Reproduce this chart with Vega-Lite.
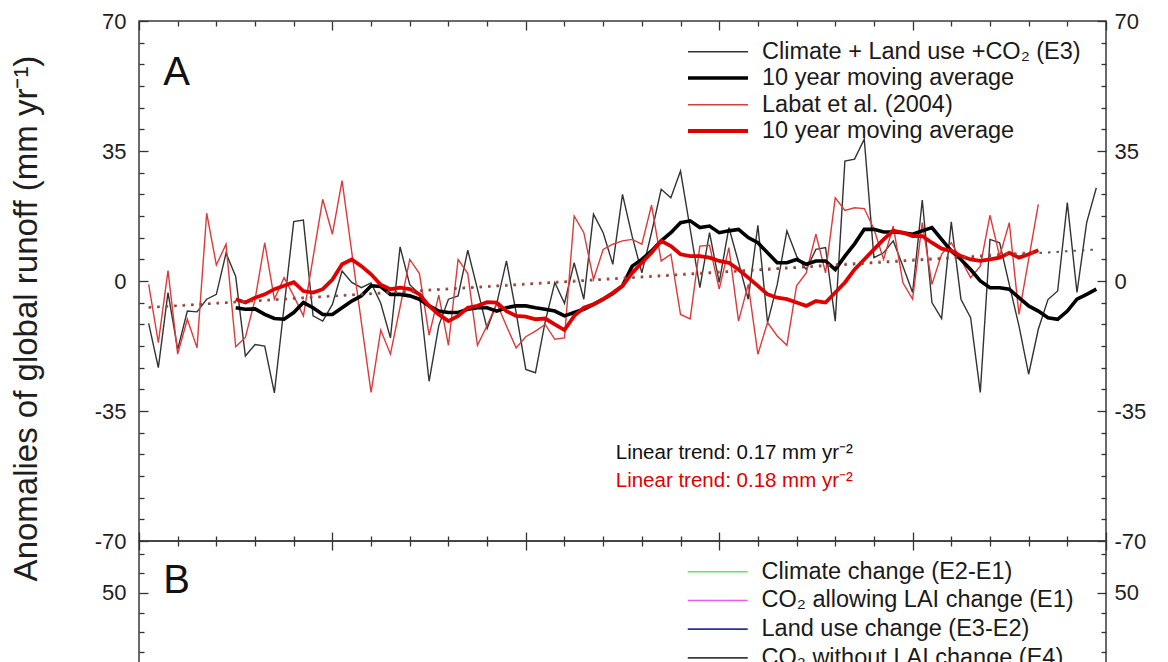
{
  "$schema": "https://vega.github.io/schema/vega-lite/v6.json",
  "background": "white",
  "padding": {"left": 9, "top": 9, "right": 0, "bottom": 0},
  "config": {
    "font": "Liberation Sans",
    "view": {"stroke": "#3a3a3a", "strokeWidth": 1.5},
    "axis": {"grid": false, "domain": false, "tickColor": "#333333", "tickWidth": 1.3, "labelFont": "Liberation Sans", "labelColor": "#1e1e1e", "labelFontSize": 22},
    "text": {"font": "Liberation Sans"}
  },
  "datasets": {
    "runoff": [
      {"year": 1901, "E3": -11.4, "Labat": -0.9},
      {"year": 1902, "E3": -23.3, "Labat": -16.6},
      {"year": 1903, "E3": -3.1, "Labat": 2.8},
      {"year": 1904, "E3": -18.4, "Labat": -19.7},
      {"year": 1905, "E3": -8.1, "Labat": -10.3},
      {"year": 1906, "E3": -8.3, "Labat": -18},
      {"year": 1907, "E3": -4.9, "Labat": 18.3},
      {"year": 1908, "E3": -3.6, "Labat": 4.3},
      {"year": 1909, "E3": 7.5, "Labat": 9.9},
      {"year": 1910, "E3": 1.2, "Labat": -17.7, "E3MA": -7.2, "LabatMA": -4.9},
      {"year": 1911, "E3": -20.2, "Labat": -15.2, "E3MA": -7.6, "LabatMA": -5.8},
      {"year": 1912, "E3": -17.1, "Labat": -5, "E3MA": -7.5, "LabatMA": -4.5},
      {"year": 1913, "E3": -17.5, "Labat": 10.3, "E3MA": -9, "LabatMA": -3.6},
      {"year": 1914, "E3": -30.1, "Labat": -4.9, "E3MA": -10.1, "LabatMA": -2.2},
      {"year": 1915, "E3": -7, "Labat": 0.9, "E3MA": -10.3, "LabatMA": -1.3},
      {"year": 1916, "E3": 16, "Labat": -4, "E3MA": -8.5, "LabatMA": -0.3},
      {"year": 1917, "E3": 16.4, "Labat": -9.4, "E3MA": -5.8, "LabatMA": -2.7},
      {"year": 1918, "E3": -9.4, "Labat": 6.3, "E3MA": -7.2, "LabatMA": -3.1},
      {"year": 1919, "E3": -10.8, "Labat": 22, "E3MA": -9, "LabatMA": -2.2},
      {"year": 1920, "E3": -6.3, "Labat": 12.6, "E3MA": -9, "LabatMA": 0.4},
      {"year": 1921, "E3": 2.7, "Labat": 27, "E3MA": -7.2, "LabatMA": 4.5},
      {"year": 1922, "E3": -0.4, "Labat": 7.8, "E3MA": -5.4, "LabatMA": 5.8},
      {"year": 1923, "E3": -1.8, "Labat": -11.2, "E3MA": -4, "LabatMA": 4},
      {"year": 1924, "E3": -0.5, "Labat": -30, "E3MA": -1.3, "LabatMA": 1.8},
      {"year": 1925, "E3": -6, "Labat": -13.2, "E3MA": -1.5, "LabatMA": -1},
      {"year": 1926, "E3": -15.3, "Labat": -19.7, "E3MA": -3.6, "LabatMA": -2.2},
      {"year": 1927, "E3": 9.2, "Labat": -7, "E3MA": -3.6, "LabatMA": -1.8},
      {"year": 1928, "E3": -1, "Labat": 5.8, "E3MA": -4, "LabatMA": -2.2},
      {"year": 1929, "E3": -3.5, "Labat": 2, "E3MA": -4.9, "LabatMA": -3.6},
      {"year": 1930, "E3": -27, "Labat": -14.6, "E3MA": -6.7, "LabatMA": -6.7},
      {"year": 1931, "E3": -12, "Labat": -3.8, "E3MA": -8.1, "LabatMA": -9},
      {"year": 1932, "E3": -4.9, "Labat": -17.3, "E3MA": -8.5, "LabatMA": -10.8},
      {"year": 1933, "E3": -4, "Labat": 5.8, "E3MA": -8.5, "LabatMA": -9.4},
      {"year": 1934, "E3": 8.3, "Labat": 2, "E3MA": -7.6, "LabatMA": -7.2},
      {"year": 1935, "E3": -2.2, "Labat": -17.3, "E3MA": -7.2, "LabatMA": -6.7},
      {"year": 1936, "E3": -12.8, "Labat": -12, "E3MA": -7.2, "LabatMA": -5.7},
      {"year": 1937, "E3": -6, "Labat": -6, "E3MA": -8.1, "LabatMA": -5.8},
      {"year": 1938, "E3": 5.4, "Labat": -12.1, "E3MA": -7.2, "LabatMA": -8.1},
      {"year": 1939, "E3": -8.5, "Labat": -18, "E3MA": -6.7, "LabatMA": -9.4},
      {"year": 1940, "E3": -23.8, "Labat": -15, "E3MA": -6.7, "LabatMA": -9.6},
      {"year": 1941, "E3": -24.7, "Labat": -13.5, "E3MA": -7.2, "LabatMA": -10.3},
      {"year": 1942, "E3": -11, "Labat": -11.7, "E3MA": -7.6, "LabatMA": -10.1},
      {"year": 1943, "E3": -0.4, "Labat": -15.7, "E3MA": -8.1, "LabatMA": -11.7},
      {"year": 1944, "E3": -6, "Labat": -15.3, "E3MA": -9.4, "LabatMA": -13.2},
      {"year": 1945, "E3": 4.9, "Labat": 17.5, "E3MA": -8.5, "LabatMA": -9.4},
      {"year": 1946, "E3": -4.9, "Labat": 13, "E3MA": -7.6, "LabatMA": -7.2},
      {"year": 1947, "E3": 18, "Labat": 0.4, "E3MA": -6.3, "LabatMA": -6.3},
      {"year": 1948, "E3": 13, "Labat": 8.5, "E3MA": -4.9, "LabatMA": -4.9},
      {"year": 1949, "E3": 4.5, "Labat": 9.9, "E3MA": -3.4, "LabatMA": -3.2},
      {"year": 1950, "E3": 23.3, "Labat": 10.8, "E3MA": -1.3, "LabatMA": -1.3},
      {"year": 1951, "E3": 12, "Labat": 11.2, "E3MA": 4, "LabatMA": 2.2},
      {"year": 1952, "E3": 2.2, "Labat": 9.9, "E3MA": 5.8, "LabatMA": 4.9},
      {"year": 1953, "E3": 13, "Labat": 20.4, "E3MA": 8.1, "LabatMA": 7.6},
      {"year": 1954, "E3": 24.7, "Labat": 5.4, "E3MA": 10.8, "LabatMA": 10.8},
      {"year": 1955, "E3": 22.4, "Labat": 7.2, "E3MA": 13, "LabatMA": 9.4},
      {"year": 1956, "E3": 29.6, "Labat": -9, "E3MA": 15.7, "LabatMA": 7.2},
      {"year": 1957, "E3": 14, "Labat": -10.2, "E3MA": 16.2, "LabatMA": 6.7},
      {"year": 1958, "E3": -1.8, "Labat": 9.4, "E3MA": 14.4, "LabatMA": 6.7},
      {"year": 1959, "E3": 13, "Labat": 9.6, "E3MA": 14.8, "LabatMA": 6.3},
      {"year": 1960, "E3": -0.4, "Labat": -2.2, "E3MA": 13, "LabatMA": 5.4},
      {"year": 1961, "E3": 14.4, "Labat": 9, "E3MA": 13.5, "LabatMA": 4.9},
      {"year": 1962, "E3": 5, "Labat": -10.8, "E3MA": 13.9, "LabatMA": 3.1},
      {"year": 1963, "E3": -4.9, "Labat": -0.9, "E3MA": 11.7, "LabatMA": 0.9},
      {"year": 1964, "E3": 15, "Labat": -19.7, "E3MA": 10.3, "LabatMA": -1.3},
      {"year": 1965, "E3": -11.2, "Labat": -11.2, "E3MA": 7.6, "LabatMA": -3.6},
      {"year": 1966, "E3": -1, "Labat": -14.8, "E3MA": 4.9, "LabatMA": -4.5},
      {"year": 1967, "E3": 13.5, "Labat": -17.3, "E3MA": 4.9, "LabatMA": -4.9},
      {"year": 1968, "E3": 6.7, "Labat": -1.3, "E3MA": 5.8, "LabatMA": -5.8},
      {"year": 1969, "E3": 3.1, "Labat": 2.2, "E3MA": 4.5, "LabatMA": -6.7},
      {"year": 1970, "E3": 8.5, "Labat": 12.6, "E3MA": 5.4, "LabatMA": -5.4},
      {"year": 1971, "E3": 9, "Labat": 2.2, "E3MA": 5.4, "LabatMA": -5.8},
      {"year": 1972, "E3": -10.8, "Labat": 22.4, "E3MA": 3.1, "LabatMA": -3.1},
      {"year": 1973, "E3": 32.3, "Labat": 19, "E3MA": 6.7, "LabatMA": -0.4},
      {"year": 1974, "E3": 32.8, "Labat": 19.7, "E3MA": 10, "LabatMA": 3.1},
      {"year": 1975, "E3": 38.2, "Labat": 19.5, "E3MA": 13.9, "LabatMA": 5.8},
      {"year": 1976, "E3": 6.3, "Labat": 14, "E3MA": 13.9, "LabatMA": 8.5},
      {"year": 1977, "E3": 7.6, "Labat": 5.8, "E3MA": 13.2, "LabatMA": 11.2},
      {"year": 1978, "E3": 10.8, "Labat": 14.8, "E3MA": 13.2, "LabatMA": 13.5},
      {"year": 1979, "E3": 4, "Labat": -0.5, "E3MA": 13, "LabatMA": 13},
      {"year": 1980, "E3": -3.1, "Labat": -4.9, "E3MA": 12.6, "LabatMA": 12.1},
      {"year": 1981, "E3": 21.8, "Labat": 15.7, "E3MA": 13.5, "LabatMA": 12.1},
      {"year": 1982, "E3": -5.8, "Labat": -0.9, "E3MA": 14.4, "LabatMA": 10.3},
      {"year": 1983, "E3": -10.1, "Labat": 7.2, "E3MA": 11.2, "LabatMA": 8.7},
      {"year": 1984, "E3": 15.9, "Labat": 10.3, "E3MA": 8.1, "LabatMA": 8.1},
      {"year": 1985, "E3": -4.9, "Labat": 5.8, "E3MA": 5.8, "LabatMA": 6.7},
      {"year": 1986, "E3": -9.9, "Labat": 0.9, "E3MA": 3.1, "LabatMA": 5.8},
      {"year": 1987, "E3": -30, "Labat": 4, "E3MA": 0, "LabatMA": 5.4},
      {"year": 1988, "E3": 11.2, "Labat": 17.7, "E3MA": -1.8, "LabatMA": 5.8},
      {"year": 1989, "E3": 10.3, "Labat": 6.7, "E3MA": -1.8, "LabatMA": 6.3},
      {"year": 1990, "E3": -1, "Labat": 15.7, "E3MA": -2.2, "LabatMA": 7.6},
      {"year": 1991, "E3": -12.1, "Labat": -9, "E3MA": -4.5, "LabatMA": 6.3},
      {"year": 1992, "E3": -25.1, "Labat": 5.8, "E3MA": -6.7, "LabatMA": 7.2},
      {"year": 1993, "E3": -13, "Labat": 20.6, "E3MA": -8.1, "LabatMA": 8.3},
      {"year": 1994, "E3": -5, "E3MA": -9.9},
      {"year": 1995, "E3": -2.7, "E3MA": -10.3},
      {"year": 1996, "E3": 21.1, "E3MA": -8.1},
      {"year": 1997, "E3": -3.1, "E3MA": -4.9},
      {"year": 1998, "E3": 15.7, "E3MA": -3.6},
      {"year": 1999, "E3": 25.1, "E3MA": -2.2}
    ]
  },
  "bounds": "flush",
  "spacing": 0,
  "vconcat": [
    {
      "width": 967,
      "height": 520,
      "layer": [
        {
          "data": {"name": "runoff"},
          "transform": [{"fold": ["E3", "Labat", "E3MA", "LabatMA"], "as": ["series", "value"]}, {"filter": "isValid(datum.value)"}],
          "mark": {"type": "line"},
          "encoding": {
            "x": {"field": "year", "type": "quantitative", "scale": {"domain": [1900, 2000], "nice": false, "zero": false},
              "axis": {"orient": "bottom", "values": [1900,1904,1908,1912,1916,1920,1924,1928,1932,1936,1940,1944,1948,1952,1956,1960,1964,1968,1972,1976,1980,1984,1988,1992,1996,2000], "labels": false, "title": null,
                "tickSize": {"condition": {"test": "datum.value % 20 == 0", "value": -9}, "value": -5}}},
            "y": {"field": "value", "type": "quantitative", "scale": {"domain": [-70, 70], "nice": false, "zero": false},
              "axis": {"orient": "left", "values": [-70,-64.1667,-58.3333,-52.5,-46.6667,-40.8333,-35,-29.1667,-23.3333,-17.5,-11.6667,-5.8333,0,5.8333,11.6667,17.5,23.3333,29.1667,35,40.8333,46.6667,52.5,58.3333,64.1667,70],
                "labelExpr": "abs(datum.value) % 35 < 0.01 ? '' + round(datum.value) : ''",
                "tickSize": {"condition": {"test": "abs(datum.value) % 35 < 0.01", "value": -9}, "value": -5},
                "labelPadding": 22,
                "title": "Anomalies of global runoff (mm yr⁻¹)", "titleFontSize": 33, "titleFontWeight": "normal", "titleColor": "#1e1e1e", "titleFont": "Liberation Sans",
                "titleX": -96, "titleY": 297, "titleAngle": -90, "titleAlign": "center", "titleBaseline": "bottom"}},
            "color": {"field": "series", "type": "nominal", "scale": {"domain": ["E3", "E3MA", "Labat", "LabatMA"], "range": ["#333333", "#000000", "#dd3a3a", "#e00000"]},
              "legend": {"orient": "none", "legendX": 567, "legendY": 19, "title": null, "padding": 0, "symbolType": "M-3,0H3", "symbolSize": 400, "labelOffset": 32, "labelFontSize": 23.5, "labelFont": "Liberation Sans", "labelColor": "#1a1a1a", "labelLimit": 600, "rowPadding": 2,
                "labelExpr": "datum.label == 'E3' ? 'Climate + Land use +CO₂ (E3)' : datum.label == 'Labat' ? 'Labat et al. (2004)' : '10 year moving average'"}},
            "strokeWidth": {"field": "series", "type": "nominal", "scale": {"type": "ordinal", "domain": ["E3", "E3MA", "Labat", "LabatMA"], "range": [1.4, 3.6, 1.4, 3.8]},
              "legend": {"orient": "none", "legendX": 567, "legendY": 19, "title": null, "padding": 0, "symbolType": "M-3,0H3", "symbolSize": 400, "labelOffset": 32, "labelFontSize": 23.5, "labelFont": "Liberation Sans", "labelColor": "#1a1a1a", "labelLimit": 600, "rowPadding": 2,
                "labelExpr": "datum.label == 'E3' ? 'Climate + Land use +CO₂ (E3)' : datum.label == 'Labat' ? 'Labat et al. (2004)' : '10 year moving average'"}}
          }
        },
        {
          "data": {"values": [{"year": 1901, "value": -7.2}, {"year": 1999, "value": 8.5}]},
          "mark": {"type": "line", "color": "#555555", "strokeWidth": 2, "strokeDash": [2.5, 6]},
          "encoding": {
            "x": {"field": "year", "type": "quantitative", "scale": {"domain": [1900, 2000], "nice": false, "zero": false}, "axis": null},
            "y": {"field": "value", "type": "quantitative", "scale": {"domain": [-70, 70], "nice": false, "zero": false}, "axis": null}
          }
        },
        {
          "data": {"values": [{"year": 1901, "value": -7.0}, {"year": 1993, "value": 7.9}]},
          "mark": {"type": "line", "color": "#c0392b", "strokeWidth": 2, "strokeDash": [2.5, 6], "opacity": 0.8},
          "encoding": {
            "x": {"field": "year", "type": "quantitative", "scale": {"domain": [1900, 2000], "nice": false, "zero": false}, "axis": null},
            "y": {"field": "value", "type": "quantitative", "scale": {"domain": [-70, 70], "nice": false, "zero": false}, "axis": null}
          }
        },
        {
          "data": {"values": [{}]},
          "mark": {"type": "text", "text": "A", "fontSize": 40, "align": "left", "baseline": "middle", "color": "#111111"},
          "encoding": {
            "x": {"datum": 1902.5, "type": "quantitative", "scale": {"domain": [1900, 2000], "nice": false, "zero": false}, "axis": null},
            "y": {"datum": 56, "type": "quantitative", "scale": {"domain": [-70, 70], "nice": false, "zero": false}, "axis": null}
          }
        },
        {
          "data": {"values": [{}]},
          "mark": {"type": "text", "text": "Linear trend: 0.17 mm yr⁻²", "fontSize": 20.5, "align": "left", "baseline": "middle", "color": "#111111"},
          "encoding": {
            "x": {"datum": 1949.3, "type": "quantitative", "scale": {"domain": [1900, 2000], "nice": false, "zero": false}, "axis": null},
            "y": {"datum": -46.3, "type": "quantitative", "scale": {"domain": [-70, 70], "nice": false, "zero": false}, "axis": null}
          }
        },
        {
          "data": {"values": [{}]},
          "mark": {"type": "text", "text": "Linear trend: 0.18 mm yr⁻²", "fontSize": 20.5, "align": "left", "baseline": "middle", "color": "#e00000"},
          "encoding": {
            "x": {"datum": 1949.3, "type": "quantitative", "scale": {"domain": [1900, 2000], "nice": false, "zero": false}, "axis": null},
            "y": {"datum": -53.8, "type": "quantitative", "scale": {"domain": [-70, 70], "nice": false, "zero": false}, "axis": null}
          }
        },
        {
          "data": {"values": [{}]},
          "mark": {"type": "point", "opacity": 0},
          "encoding": {
            "x": {"datum": 1950, "type": "quantitative", "scale": {"domain": [1900, 2000], "nice": false, "zero": false},
              "axis": {"orient": "top", "values": [1900,1904,1908,1912,1916,1920,1924,1928,1932,1936,1940,1944,1948,1952,1956,1960,1964,1968,1972,1976,1980,1984,1988,1992,1996,2000], "labels": false, "title": null,
                "tickSize": {"condition": {"test": "datum.value % 20 == 0", "value": -9}, "value": -5}}},
            "y": {"datum": 0, "type": "quantitative", "scale": {"domain": [-70, 70], "nice": false, "zero": false},
              "axis": {"orient": "right", "values": [-70,-64.1667,-58.3333,-52.5,-46.6667,-40.8333,-35,-29.1667,-23.3333,-17.5,-11.6667,-5.8333,0,5.8333,11.6667,17.5,23.3333,29.1667,35,40.8333,46.6667,52.5,58.3333,64.1667,70],
                "labelExpr": "abs(datum.value) % 35 < 0.01 ? '' + round(datum.value) : ''",
                "tickSize": {"condition": {"test": "abs(datum.value) % 35 < 0.01", "value": -9}, "value": -5},
                "labelPadding": 17, "title": null}}
          }
        }
      ],
      "resolve": {"axis": {"x": "independent", "y": "independent"}}
    },
    {
      "width": 967,
      "height": 300,
      "layer": [
        {
          "data": {"values": [{"series": "clim", "year": 1901}, {"series": "co2lai", "year": 1901}, {"series": "land", "year": 1901}, {"series": "co2no", "year": 1901}]},
          "transform": [{"filter": "isValid(datum.value)"}],
          "mark": {"type": "line", "strokeWidth": 1.6},
          "encoding": {
            "x": {"field": "year", "type": "quantitative", "scale": {"domain": [1900, 2000], "nice": false, "zero": false}, "axis": null},
            "y": {"field": "value", "type": "quantitative", "scale": {"domain": [-76.5, 76.5], "nice": false, "zero": false},
              "axis": {"orient": "left", "values": [-70,-60,-50,-40,-30,-20,-10,0,10,20,30,40,50,60,70],
                "labelExpr": "datum.value % 50 == 0 ? '' + datum.value : ''",
                "tickSize": {"condition": {"test": "datum.value % 50 == 0", "value": -9}, "value": -5},
                "labelPadding": 22, "title": null}},
            "color": {"field": "series", "type": "nominal", "scale": {"domain": ["clim", "co2lai", "land", "co2no"], "range": ["#5ee65e", "#e85ee8", "#2f2f9a", "#3a3a3a"]},
              "legend": {"orient": "none", "legendX": 567, "legendY": 19, "title": null, "padding": 0, "symbolType": "M-3,0H3", "symbolSize": 400, "symbolStrokeWidth": 1.6, "labelOffset": 32, "labelFontSize": 23.5, "labelFont": "Liberation Sans", "labelColor": "#1a1a1a", "labelLimit": 600, "rowPadding": 3.7,
                "labelExpr": "datum.label == 'clim' ? 'Climate change (E2-E1)' : datum.label == 'co2lai' ? 'CO₂ allowing LAI change (E1)' : datum.label == 'land' ? 'Land use change (E3-E2)' : 'CO₂ without LAI change (E4)'"}}
          }
        },
        {
          "data": {"values": [{}]},
          "mark": {"type": "text", "text": "B", "fontSize": 40, "align": "left", "baseline": "middle", "color": "#111111"},
          "encoding": {
            "x": {"datum": 1902.5, "type": "quantitative", "scale": {"domain": [1900, 2000], "nice": false, "zero": false}, "axis": null},
            "y": {"datum": 56, "type": "quantitative", "scale": {"domain": [-76.5, 76.5], "nice": false, "zero": false}, "axis": null}
          }
        },
        {
          "data": {"values": [{}]},
          "mark": {"type": "point", "opacity": 0},
          "encoding": {
            "x": {"datum": 1950, "type": "quantitative", "scale": {"domain": [1900, 2000], "nice": false, "zero": false},
              "axis": {"orient": "top", "values": [1900,1904,1908,1912,1916,1920,1924,1928,1932,1936,1940,1944,1948,1952,1956,1960,1964,1968,1972,1976,1980,1984,1988,1992,1996,2000], "labels": false, "title": null,
                "tickSize": {"condition": {"test": "datum.value % 20 == 0", "value": -9}, "value": -5}}},
            "y": {"datum": 0, "type": "quantitative", "scale": {"domain": [-76.5, 76.5], "nice": false, "zero": false},
              "axis": {"orient": "right", "values": [-70,-60,-50,-40,-30,-20,-10,0,10,20,30,40,50,60,70],
                "labelExpr": "datum.value % 50 == 0 ? '' + datum.value : ''",
                "tickSize": {"condition": {"test": "datum.value % 50 == 0", "value": -9}, "value": -5},
                "labelPadding": 17, "title": null}}
          }
        }
      ],
      "resolve": {"axis": {"x": "independent", "y": "independent"}}
    }
  ],
  "resolve": {"scale": {"color": "independent", "strokeWidth": "independent"}, "legend": {"color": "independent", "strokeWidth": "independent"}}
}
